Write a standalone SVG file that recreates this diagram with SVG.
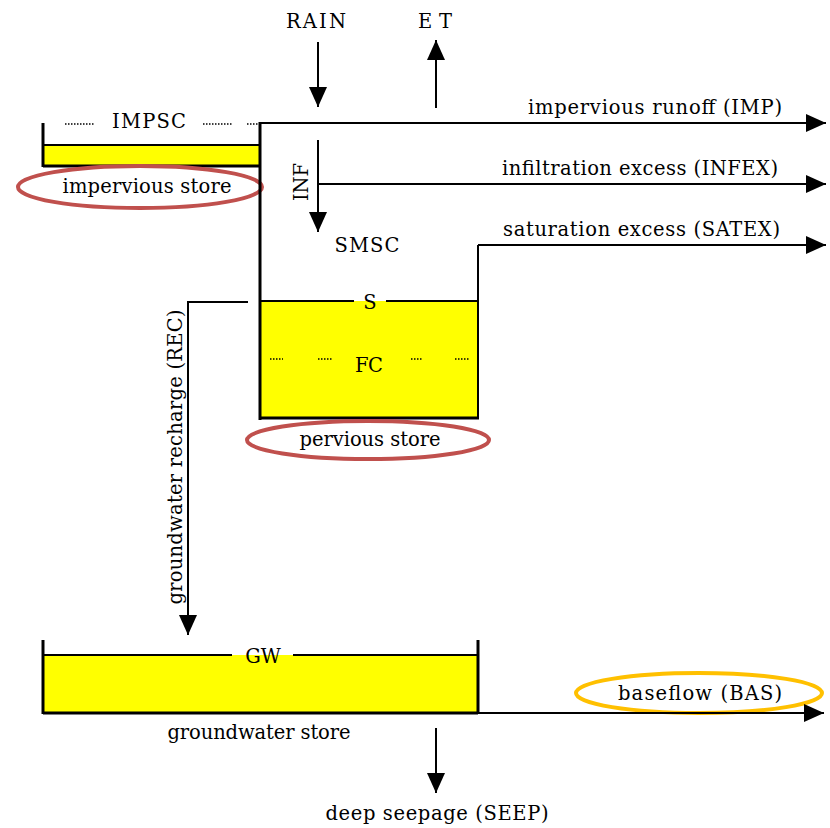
<svg xmlns="http://www.w3.org/2000/svg" width="830" height="828" viewBox="0 0 830 828">
<style>
text{font-family:"DejaVu Serif","Liberation Serif",serif;font-size:19.5px;fill:#000}
.w{fill:#ffff00;stroke:none}
.l{stroke:#000;stroke-width:2;fill:none}
.t{stroke:#000;stroke-width:3;fill:none}
.d{stroke:#000;stroke-width:1.5;stroke-dasharray:1.5 1.5;fill:none}
.red{fill:none;stroke:#c0504d;stroke-width:4}
.org{fill:none;stroke:#ffc000;stroke-width:4}
</style>
<defs>
<marker id="ah" markerUnits="userSpaceOnUse" markerWidth="20" markerHeight="18" refX="20" refY="9" orient="auto" viewBox="0 0 20 18">
<path d="M0,0 L20,9 L0,18 z" fill="#000"/>
</marker>
</defs>

<g id="impervious-store">
<rect class="w" x="43" y="145" width="217" height="21"/>
<line class="l" x1="43" y1="145" x2="260" y2="145"/>
<line class="t" x1="43" y1="123" x2="43" y2="167"/>
<line class="t" x1="43" y1="166" x2="260" y2="166"/>
<line class="d" x1="65" y1="124" x2="95" y2="124"/>
<line class="d" x1="203" y1="124" x2="232" y2="124"/>
<line class="d" x1="247" y1="124" x2="258" y2="124"/>
<text x="149" y="128" text-anchor="middle" textLength="74">IMPSC</text>
<ellipse class="red" cx="140" cy="187" rx="122" ry="21"/>
<text x="147" y="193" text-anchor="middle" textLength="169">impervious store</text>
</g>

<g id="pervious-store">
<rect class="w" x="260" y="301" width="218" height="117"/>
<line class="l" x1="260" y1="301" x2="354" y2="301"/>
<line class="l" x1="386" y1="301" x2="478" y2="301"/>
<line class="t" x1="260" y1="122" x2="260" y2="420"/>
<line class="l" x1="478" y1="245" x2="478" y2="419"/>
<line class="t" x1="260" y1="418" x2="479" y2="418"/>
<line class="d" x1="270" y1="359" x2="283" y2="359"/>
<line class="d" x1="318" y1="359" x2="333" y2="359"/>
<line class="d" x1="411" y1="359" x2="422" y2="359"/>
<line class="d" x1="455" y1="359" x2="470" y2="359"/>
<text x="370" y="309" text-anchor="middle">S</text>
<text x="369" y="372" text-anchor="middle" textLength="28">FC</text>
<text x="367" y="252" text-anchor="middle" textLength="65">SMSC</text>
<ellipse class="red" cx="368" cy="440" rx="121" ry="19"/>
<text x="370" y="446" text-anchor="middle" textLength="141">pervious store</text>
</g>

<g id="groundwater-store">
<rect class="w" x="43" y="655" width="435" height="58"/>
<line class="l" x1="43" y1="655" x2="232" y2="655"/>
<line class="l" x1="293" y1="655" x2="478" y2="655"/>
<line class="t" x1="43" y1="640" x2="43" y2="714"/>
<line class="t" x1="478" y1="640" x2="478" y2="714"/>
<line class="t" x1="43" y1="713" x2="478" y2="713"/>
<text x="263" y="663" text-anchor="middle">GW</text>
<text x="259" y="739" text-anchor="middle" textLength="183">groundwater store</text>
</g>

<g id="rain">
<text x="316" y="28" text-anchor="middle" textLength="60">RAIN</text>
</g>
<g id="et">
<text x="435" y="28" text-anchor="middle" textLength="34">ET</text>
</g>
<g id="baseflow">
<ellipse class="org" cx="699" cy="693" rx="123" ry="20"/>
<text x="700" y="700" text-anchor="middle" textLength="164">baseflow (BAS)</text>
</g>

<g id="connectors">
<line class="l" x1="318" y1="42" x2="318" y2="107" marker-end="url(#ah)"/>
<line class="l" x1="436" y1="108" x2="436" y2="40" marker-end="url(#ah)"/>
<line class="l" x1="260" y1="123" x2="826" y2="123" marker-end="url(#ah)"/>
<text x="782" y="114" text-anchor="end" textLength="254">impervious runoff (IMP)</text>
<line class="l" x1="318" y1="140" x2="318" y2="232" marker-end="url(#ah)"/>
<text transform="translate(308,182) rotate(-90)" text-anchor="middle" textLength="38">INF</text>
<line class="l" x1="318" y1="184" x2="826" y2="184" marker-end="url(#ah)"/>
<text x="778" y="175" text-anchor="end" textLength="276">infiltration excess (INFEX)</text>
<line class="l" x1="478" y1="245" x2="826" y2="245" marker-end="url(#ah)"/>
<text x="780" y="236" text-anchor="end" textLength="277">saturation excess (SATEX)</text>
<polyline class="l" points="248,302 188,302 188,635" marker-end="url(#ah)"/>
<text transform="translate(182,457) rotate(-90)" text-anchor="middle" textLength="295">groundwater recharge (REC)</text>
<line class="l" x1="478" y1="713" x2="824" y2="713" marker-end="url(#ah)"/>
<line class="l" x1="436" y1="728" x2="436" y2="793" marker-end="url(#ah)"/>
<text x="437" y="820" text-anchor="middle" textLength="223">deep seepage (SEEP)</text>
</g>
</svg>
